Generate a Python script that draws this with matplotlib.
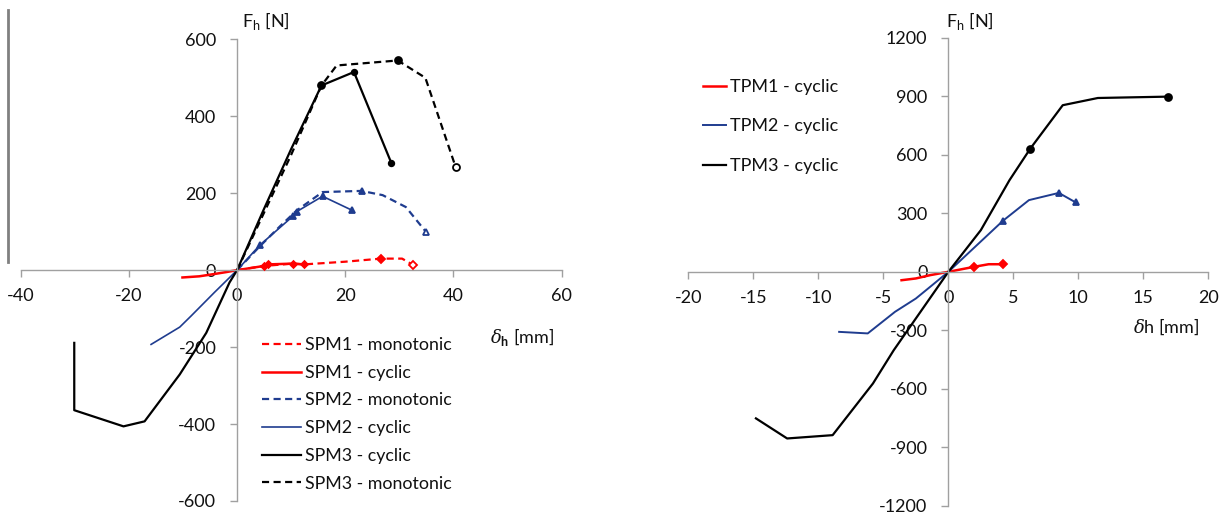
import matplotlib.pyplot as plt
from matplotlib.lines import Line2D

plt.rcParams['font.family'] = ['Lato', 'DejaVu Sans']
plt.rcParams['mathtext.fontset'] = 'custom'
plt.rcParams['mathtext.rm'] = 'Lato'
plt.rcParams['mathtext.it'] = 'DejaVu Serif:italic'
plt.rcParams['mathtext.bf'] = 'Lato:bold'
plt.rcParams['axes.unicode_minus'] = False

RED = '#ff0000'
BLUE = '#1f3c8f'
BLACK = '#000000'
AXC = '#a0a0a0'

# ---- left chart (SPM) ----
spm1_mono_x = [0, 5.0, 10.3, 12.4, 20.0, 26.6, 30.5, 32.6]
spm1_mono_y = [0, 11, 17, 15, 22, 30, 30, 13]
spm1_cyc_x = [-10.1, -7.0, -4.2, -2.0, 0, 5.0, 5.8, 10.3, 12.4]
spm1_cyc_y = [-19, -16, -10, -5, 0, 11, 15, 17, 15]
spm2_mono_x = [0, 4.2, 8.0, 11.0, 15.8, 23.0, 26.9, 31.2, 35.0]
spm2_mono_y = [0, 62, 115, 155, 203, 206, 195, 164, 98]
spm2_cyc_x = [-15.9, -10.6, -8.5, -4.2, 0, 4.2, 10.3, 11.0, 15.8, 21.2]
spm2_cyc_y = [-193, -148, -119, -58, 0, 65, 140, 152, 192, 156]
spm3_cyc_x = [-30.1, -30.1, -21.0, -17.1, -10.6, -5.7, -1.4, 0, 5.0, 10.0, 15.6, 21.6, 28.5]
spm3_cyc_y = [-189, -364, -406, -393, -271, -163, -32, 0, 160, 315, 480, 515, 279]
spm3_mono_x = [0, 5.0, 10.0, 15.6, 18.4, 29.7, 34.8, 40.4]
spm3_mono_y = [0, 150, 300, 480, 532, 545, 500, 268]

left_xticks = [-40, -20, 0, 20, 40, 60]
left_yticks = [-600, -400, -200, 0, 200, 400, 600]

# ---- right chart (TPM) ----
tpm1_x = [-3.6, -2.5, -1.4, 0, 2.0, 3.1, 4.2]
tpm1_y = [-43, -34, -17, 0, 26, 39, 39]
tpm2_x = [-8.4, -6.2, -4.1, -2.5, -1.4, 0, 4.2, 6.2, 8.5, 9.8]
tpm2_y = [-308, -316, -205, -137, -77, 0, 262, 368, 405, 356]
tpm3_x = [-14.8, -12.4, -8.9, -5.8, -4.2, 0, 2.5, 4.7, 6.3, 8.8, 11.5, 16.9]
tpm3_y = [-752, -855, -838, -573, -402, 0, 214, 470, 632, 855, 892, 899]

right_xticks = [-20, -15, -10, -5, 0, 5, 10, 15, 20]
right_yticks = [-1200, -900, -600, -300, 0, 300, 600, 900, 1200]


def style_axes(ax, xticks, yticks):
    ax.spines['left'].set_position(('data', 0))
    ax.spines['bottom'].set_position(('data', 0))
    for s in ('top', 'right'):
        ax.spines[s].set_visible(False)
    for s in ('left', 'bottom'):
        ax.spines[s].set_color(AXC)
        ax.spines[s].set_linewidth(1.0)
    ax.set_xlim(xticks[0], xticks[-1])
    ax.set_ylim(yticks[0], yticks[-1])
    ax.set_xticks(xticks)
    ax.set_yticks(yticks)
    ax.tick_params(direction='out', length=5, width=1, color=AXC,
                   labelsize=13, labelcolor='#111111')
    ax.tick_params(axis='x', pad=8)
    ax.tick_params(axis='y', pad=10)
    ax.patch.set_alpha(0)


def marks(ax, xs, ys, idx, marker, color, size, open_idx=()):
    for i in idx:
        face = 'white' if i in open_idx else color
        ax.plot(xs[i], ys[i], marker=marker, color=color, markersize=size,
                markerfacecolor=face, markeredgewidth=1.3, linestyle='none',
                zorder=5)


fig = plt.figure(figsize=(12.27, 5.17), dpi=100)

# ---------------- left ----------------
ax1 = fig.add_axes([0.01687, 0.03095, 0.4409, 0.8930])
style_axes(ax1, left_xticks, left_yticks)
dash = (0, (3.2, 2.0))
ax1.plot(spm1_mono_x, spm1_mono_y, color=RED, lw=1.6, ls=dash, label='SPM1 - monotonic')
ax1.plot(spm1_cyc_x, spm1_cyc_y, color=RED, lw=1.8, label='SPM1 - cyclic')
ax1.plot(spm2_mono_x, spm2_mono_y, color=BLUE, lw=1.6, ls=dash, label='SPM2 - monotonic')
ax1.plot(spm2_cyc_x, spm2_cyc_y, color=BLUE, lw=1.2, label='SPM2 - cyclic')
ax1.plot(spm3_cyc_x, spm3_cyc_y, color=BLACK, lw=1.6, label='SPM3 - cyclic')
ax1.plot(spm3_mono_x, spm3_mono_y, color=BLACK, lw=1.6, ls=dash, label='SPM3 - monotonic')

marks(ax1, spm1_cyc_x, spm1_cyc_y, [5, 6, 7, 8], 'D', RED, 3.5)
marks(ax1, spm1_mono_x, spm1_mono_y, [5, 7], 'D', RED, 4.5, open_idx=(7,))
marks(ax1, spm2_cyc_x, spm2_cyc_y, [5, 6, 7, 8, 9], '^', BLUE, 4.5)
marks(ax1, spm2_mono_x, spm2_mono_y, [5, 8], '^', BLUE, 5, open_idx=(8,))
marks(ax1, spm3_cyc_x, spm3_cyc_y, [10, 11, 12], 'o', BLACK, 4)
marks(ax1, spm3_mono_x, spm3_mono_y, [3, 5, 7], 'o', BLACK, 5, open_idx=(7,))

leg1 = ax1.legend(loc='upper left', bbox_to_anchor=(262 / 1227, 1 - 337 / 517),
                  bbox_transform=fig.transFigure, frameon=False, fontsize=12.8,
                  handlelength=2.2, handletextpad=0.2, labelspacing=0.66,
                  borderpad=0, borderaxespad=0)
for t in leg1.get_texts():
    t.set_color('#111111')

fig.text(242 / 1227, 1 - 27 / 517, r'F$_\mathrm{h}$ [N]', fontsize=13,
         color='#111111', ha='left', va='baseline')
fig.text(490 / 1227, 1 - 343 / 517, r'$\delta_\mathbf{h}$ [mm]', fontsize=13,
         color='#111111', ha='left', va='baseline')

# artefact line at far left
fig.add_artist(Line2D([8 / 1227, 8 / 1227], [1 - 262 / 517, 1 - 10 / 517],
                      color='#808080', lw=2))

# ---------------- right ----------------
ax2 = fig.add_axes([0.5610, 0.02186, 0.4238, 0.9047])
style_axes(ax2, right_xticks, right_yticks)
ax2.plot(tpm1_x, tpm1_y, color=RED, lw=1.8, label='TPM1 - cyclic')
ax2.plot(tpm2_x, tpm2_y, color=BLUE, lw=1.4, label='TPM2 - cyclic')
ax2.plot(tpm3_x, tpm3_y, color=BLACK, lw=1.6, label='TPM3 - cyclic')

marks(ax2, tpm1_x, tpm1_y, [4, 6], 'D', RED, 4)
marks(ax2, tpm2_x, tpm2_y, [6, 8, 9], '^', BLUE, 5)
marks(ax2, tpm3_x, tpm3_y, [8, 11], 'o', BLACK, 5)

leg2 = ax2.legend(loc='upper left', bbox_to_anchor=(703 / 1227, 1 - 79 / 517),
                  bbox_transform=fig.transFigure, frameon=False, fontsize=13,
                  handlelength=1.3, handletextpad=0.2, labelspacing=1.3,
                  borderpad=0, borderaxespad=0)
for t in leg2.get_texts():
    t.set_color('#111111')

fig.text(946 / 1227, 1 - 27 / 517, r'F$_\mathrm{h}$ [N]', fontsize=13,
         color='#111111', ha='left', va='baseline')
fig.text(1133 / 1227, 1 - 333 / 517, r'$\delta$h [mm]', fontsize=13,
         color='#111111', ha='left', va='baseline')

fig.savefig('out.png', dpi=100)
